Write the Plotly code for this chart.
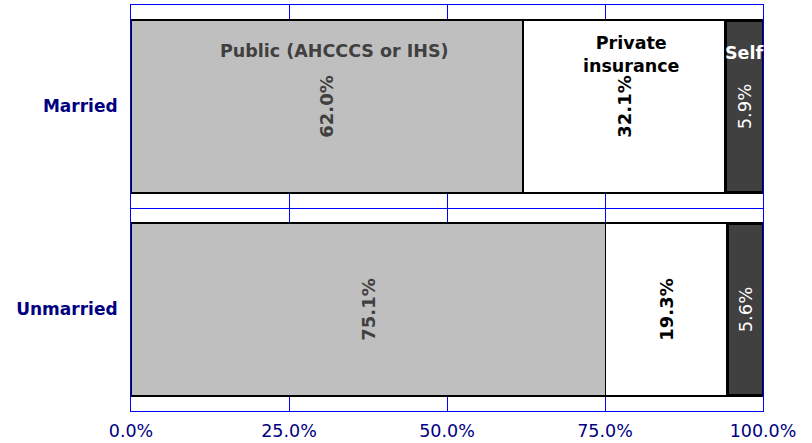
import plotly.graph_objects as go

# Health coverage by marital status (percent of each group)
categories = ["Married", "Unmarried"]
public_pct = [62.0, 75.1]
private_pct = [32.1, 19.3]
self_pct = [5.9, 5.6]
series_names = ["Public (AHCCCS or IHS)", "Private<br>insurance", "Self"]
x_ticks = [0, 25, 50, 75, 100]
x_tick_labels = ["0.0%", "25.0%", "50.0%", "75.0%", "100.0%"]

FONT = "DejaVu Sans"
NAVY = "#000080"
GRID = "#0000FF"

fig = go.Figure()

series = [
    (public_pct, "#BFBFBF", "#000000", 1.5, "#404040", "bold"),
    (private_pct, "#FFFFFF", "#000000", 1.5, "#000000", "bold"),
    (self_pct, "#404040", "#000000", 3, "#FFFFFF", "normal"),
]

for (vals, fill, edge, edge_w, txt_col, weight), name in zip(series, series_names):
    fig.add_trace(go.Bar(
        y=categories,
        x=vals,
        orientation="h",
        name=name,
        marker=dict(color=fill, line=dict(color=edge, width=edge_w)),
        text=vals,
        texttemplate="%{x:.1f}%",
        textposition="inside",
        insidetextanchor="middle",
        textangle=-90,
        insidetextfont=dict(family=FONT, size=18, color=txt_col, weight=weight),
        constraintext="none",
        hoverinfo="skip",
    ))

# series names written inside the top row of bars
name_colors = ["#404040", "#000000", "#FFFFFF"]
name_shift = [(8, 56), (7, 52.5), (0, 53.5)]
left = 0.0
for vals, name, col, (dx, dy) in zip([public_pct, private_pct, self_pct],
                                      series_names, name_colors, name_shift):
    mid = left + vals[0] / 2
    fig.add_annotation(
        x=mid, y=categories[0], text=name, showarrow=False,
        xshift=dx, yshift=dy,
        font=dict(family=FONT, size=17.5, color=col, weight="bold",
                  lineposition="none"),
    )
    left += vals[0]

fig.update_layout(
    barmode="stack",
    bargap=0.15,
    width=812,
    height=443,
    margin=dict(l=131, r=49, t=5, b=32, autoexpand=False),
    paper_bgcolor="white",
    plot_bgcolor="white",
    showlegend=False,
    font=dict(family=FONT),
    xaxis=dict(
        range=[0, 100],
        tickvals=x_ticks,
        ticktext=x_tick_labels,
        tickfont=dict(family=FONT, size=17.5, color=NAVY),
        showgrid=True,
        gridcolor=GRID,
        gridwidth=1,
        showline=True,
        linecolor=GRID,
        linewidth=1,
        mirror=True,
        zeroline=False,
        ticks="",
        ticklabelstandoff=4,
        automargin=False,
    ),
    yaxis=dict(
        type="category",
        autorange="reversed",
        tickson="boundaries",
        showgrid=True,
        gridcolor=GRID,
        gridwidth=1,
        showline=True,
        linecolor=GRID,
        linewidth=1,
        mirror=True,
        ticks="",
        tickfont=dict(family=FONT, size=17, color=NAVY, weight="bold"),
        ticklabelstandoff=9,
        automargin=False,
    ),
)

fig.write_html("out.html")
